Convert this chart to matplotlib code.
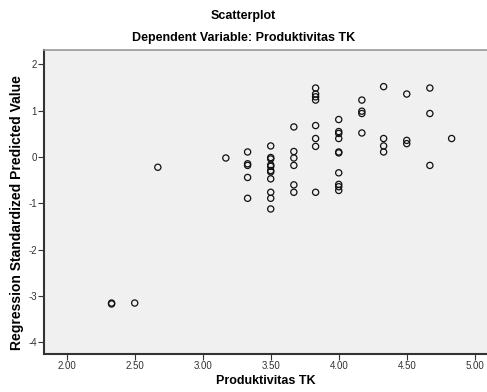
import numpy as np
import matplotlib
matplotlib.use("Agg")
import matplotlib.pyplot as plt

plt.rcParams['font.family'] = ['Liberation Sans', 'DejaVu Sans']

# Produktivitas TK (observed)
produktivitas = [2.33, 2.33, 2.50, 2.67, 3.17,
                 3.33, 3.33, 3.33, 3.33, 3.33,
                 3.50, 3.50, 3.50, 3.50, 3.50, 3.50, 3.50, 3.50, 3.50, 3.50, 3.50,
                 3.67, 3.67, 3.67, 3.67, 3.67, 3.67,
                 3.83, 3.83, 3.83, 3.83, 3.83, 3.83, 3.83, 3.83,
                 4.00, 4.00, 4.00, 4.00, 4.00, 4.00, 4.00, 4.00, 4.00, 4.00,
                 4.17, 4.17, 4.17, 4.17,
                 4.33, 4.33, 4.33, 4.33,
                 4.50, 4.50, 4.50,
                 4.67, 4.67, 4.67,
                 4.83]

# Regression standardized predicted value
pred_std = [-3.15, -3.17, -3.15, -0.22, -0.02,
            0.11, -0.145, -0.18, -0.44, -0.89,
            0.24, -0.01, -0.04, -0.17, -0.20, -0.29, -0.32, -0.47, -0.76, -0.89, -1.12,
            0.65, 0.12, -0.02, -0.18, -0.60, -0.76,
            1.49, 1.36, 1.30, 1.23, 0.68, 0.40, 0.23, -0.76,
            0.81, 0.55, 0.51, 0.40, 0.11, 0.09, -0.34, -0.59, -0.64, -0.72,
            1.23, 0.99, 0.94, 0.52,
            1.52, 0.40, 0.24, 0.11,
            1.36, 0.36, 0.29,
            1.49, 0.94, -0.18,
            0.40]

xticks = [2.0, 2.5, 3.0, 3.5, 4.0, 4.5, 5.0]
yticks = [-4, -3, -2, -1, 0, 1, 2]

fig = plt.figure(figsize=(4.87, 3.92), dpi=100)
ax = fig.add_axes([0.0903, 0.0969, 0.9097, 0.7755])
ax.set_facecolor('#f0f0f0')

ax.scatter(produktivitas, pred_std, s=20, facecolors='none',
           edgecolors='#111111', linewidths=0.9, zorder=3)

ax.set_xlim(1.833, 5.09)
ax.set_ylim(-4.25, 2.31)
ax.set_xticks(xticks)
ax.set_xticklabels(['%.2f' % t for t in xticks])
ax.set_yticks(yticks)
ax.set_yticklabels([str(t) for t in yticks])
ax.tick_params(direction='out', length=4, width=0.8, labelsize=7,
               colors='#333333', labelcolor='#333333', pad=1)

for side in ['left', 'bottom']:
    ax.spines[side].set_color('#333333')
    ax.spines[side].set_linewidth(1.5)
ax.spines['top'].set_color('#999999')
ax.spines['top'].set_linewidth(1.2)
ax.spines['right'].set_visible(False)

ax.set_xlabel('Produktivitas TK', fontsize=9, fontweight='bold', labelpad=3)
ax.set_ylabel('Regression Standardized Predicted Value', fontsize=10,
              fontweight='bold')
ax.yaxis.set_label_coords(-0.045, 0.465)

fig.text(0.5, 0.958, 'Scatterplot', ha='center', va='center',
         fontsize=9, fontweight='bold')
fig.text(0.5, 0.902, 'Dependent Variable: Produktivitas TK', ha='center',
         va='center', fontsize=9, fontweight='bold')

fig.savefig('out.png', dpi=100)
